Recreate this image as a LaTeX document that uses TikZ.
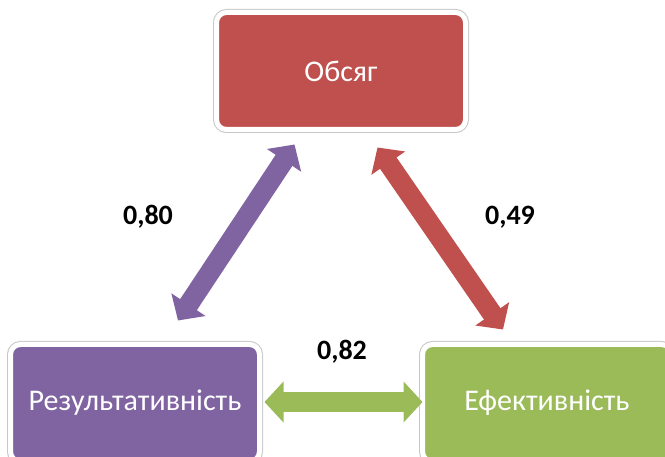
\documentclass[tikz,border=0pt]{standalone}
\usepackage{fontspec}
\setmainfont{Carlito}
\usetikzlibrary{arrows.meta,calc}

\definecolor{boxred}{HTML}{C0504D}
\definecolor{boxpurple}{HTML}{8064A2}
\definecolor{boxgreen}{HTML}{9BBB59}

\tikzset{
	box/.style={rounded corners=10pt, minimum width=249pt, minimum height=117pt,
		draw=white, line width=5pt, preaction={draw=black!22, line width=7pt},
		text=white, font=\fontsize{30}{34}\selectfont},
	link/.style={line width=20pt, {Triangle[width=40pt,length=19pt]}-{Triangle[width=40pt,length=19pt]}},
	coef/.style={font=\fontsize{28}{32}\selectfont\bfseries}
}

\begin{document}
\begin{tikzpicture}[x=1pt, y=-1pt]
		\useasboundingbox (0,0) rectangle (665,457);

		\node[box, fill=boxred] (obs) at (341,71) {Обсяг};
		\node[box, fill=boxpurple] (res) at (135,403) {Результативність};
		\node[box, fill=boxgreen] (eff) at (547,403) {Ефективність};

		\coordinate (A) at ($(obs.south west)+(80.5,12.5)$);
		\coordinate (B) at ($(res.north)+(43,-21.5)$);
		\coordinate (C) at ($(obs.south west)+(163.5,15.5)$);
		\coordinate (D) at ($(eff.north)+(-44,-12.5)$);
		\coordinate (E) at ($(res.east)+(2.5,-1)$);
		\coordinate (F) at ($(eff.west)+(2.5,-1)$);

		\draw[link, boxpurple] (B) -- (A);
		\draw[link, boxred] (C) -- (D);
		\draw[link, boxgreen] (E) -- (F);

		\node[coef] (rA) at (148,217) {0,80};
		\node[coef] (rB) at (510,217) {0,49};
		\node[coef] (rC) at (342,352) {0,82};

	\end{tikzpicture}
\end{document}
